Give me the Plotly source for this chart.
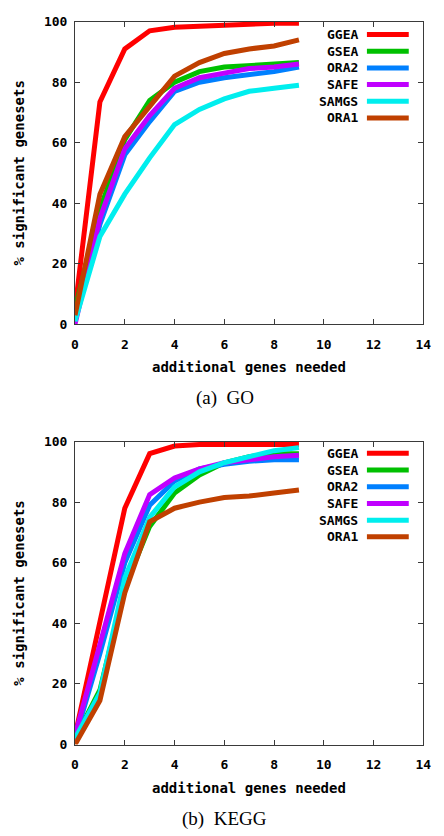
import plotly.graph_objects as go

x_vals = [0, 1, 2, 3, 4, 5, 6, 7, 8, 9]
series_names = ["GGEA", "GSEA", "ORA2", "SAFE", "SAMGS", "ORA1"]
series_colors = ["#ff0000", "#00c000", "#0080ff", "#c000ff", "#00eeee", "#c04000"]

go_ggea = [5, 73.5, 91, 97, 98.2, 98.6, 99, 99.3, 99.5, 99.5]
go_gsea = [5, 38, 61, 74, 80, 83.5, 85, 85.5, 86, 86.5]
go_ora2 = [1, 33, 56, 67, 77, 80, 81.5, 82.5, 83.5, 85]
go_safe = [0, 35, 58, 69, 78, 81.5, 83, 84.5, 85, 86]
go_samgs = [1, 29, 43, 55, 66, 71, 74.5, 77, 78, 79]
go_ora1 = [3, 43, 62, 72, 82, 86.5, 89.5, 91, 92, 94]

kegg_ggea = [3, 40, 78, 96, 98.5, 99, 99, 99, 99, 99]
kegg_gsea = [2, 18, 52, 72, 83, 89, 93, 95, 96, 96]
kegg_ora2 = [2, 30, 60, 79, 87, 91, 92.5, 93.5, 94, 94]
kegg_safe = [3, 33, 63, 82.5, 88, 91, 93, 94, 95, 95.5]
kegg_samgs = [2, 17, 55, 75, 85, 90, 93, 95, 97, 98]
kegg_ora1 = [0, 14.5, 50, 73.5, 78, 80, 81.5, 82, 83, 84]

x_ticks = [0, 2, 4, 6, 8, 10, 12, 14]
y_ticks = [0, 20, 40, 60, 80, 100]
x_title = "additional genes needed"
y_title = "% significant genesets"
captions = ["(a)  GO", "(b)  KEGG"]

go_data = [go_ggea, go_gsea, go_ora2, go_safe, go_samgs, go_ora1]
kegg_data = [kegg_ggea, kegg_gsea, kegg_ora2, kegg_safe, kegg_samgs, kegg_ora1]

W, H = 444, 836
PX_L, PX_R = 73, 431
panels = [(15, 323), (442.5, 751)]

mono = "DejaVu Sans Mono"
fig = go.Figure()

for p, data in enumerate([go_data, kegg_data]):
    sfx = "" if p == 0 else "2"
    for name, col, ys in zip(series_names, series_colors, data):
        fig.add_trace(go.Scatter(x=x_vals, y=ys, mode="lines", name=name,
                                 line=dict(color=col, width=5),
                                 xaxis="x" + sfx, yaxis="y" + sfx, showlegend=False))

def px2y(py):
    return 1 - py / H

ax_common = dict(showgrid=False, zeroline=False, showline=True, linecolor="#3a3a3a", linewidth=1,
                 mirror="ticks", ticks="inside", ticklen=5, tickwidth=1, tickcolor="#3a3a3a",
                 tickfont=dict(family=mono, size=13, color="black", weight="bold"))

layout = dict(width=W, height=H, margin=dict(l=0, r=0, t=0, b=0),
              plot_bgcolor="white", paper_bgcolor="white", showlegend=False)
annotations = []
shapes = []
for p, (top, bot) in enumerate(panels):
    sfx = "" if p == 0 else "2"
    layout["xaxis" + sfx] = dict(ax_common, domain=[PX_L / W, PX_R / W], range=[0, 14],
                                 tickvals=x_ticks, anchor="y" + sfx, ticklabelstandoff=8)
    layout["yaxis" + sfx] = dict(ax_common, domain=[px2y(bot), px2y(top)], range=[0, 100],
                                 tickvals=y_ticks, anchor="x" + sfx, ticklabelstandoff=4)
    annotations.append(dict(text=x_title, xref="paper", yref="paper", x=252 / W, y=px2y(bot + 44),
                            showarrow=False, xanchor="center", yanchor="middle",
                            font=dict(family=mono, size=14, color="black", weight="bold")))
    annotations.append(dict(text=y_title, xref="paper", yref="paper", x=15 / W, y=px2y((top + bot) / 2),
                            showarrow=False, xanchor="center", yanchor="middle", textangle=-90,
                            font=dict(family=mono, size=14, color="black", weight="bold")))
    annotations.append(dict(text=captions[p], xref="paper", yref="paper", x=227 / W,
                            y=px2y(bot + 75 + (1 if p == 1 else 0)),
                            showarrow=False, xanchor="center", yanchor="middle",
                            font=dict(family="Liberation Serif", size=19, color="black")))
    row0 = top + 13 if p == 0 else top + 12
    for i, (name, col) in enumerate(zip(series_names, series_colors)):
        ry = row0 + i * 17
        annotations.append(dict(text=name, xref="paper", yref="paper", x=366 / W, y=px2y(ry),
                                showarrow=False, xanchor="right", yanchor="middle",
                                font=dict(family=mono, size=13, color="black", weight="bold")))
        shapes.append(dict(type="line", xref="paper", yref="paper", x0=373 / W, x1=416 / W,
                           y0=px2y(ry), y1=px2y(ry), line=dict(color=col, width=5)))

layout["annotations"] = annotations
layout["shapes"] = shapes
fig.update_layout(**layout)
fig.write_html("out.html", config={"displayModeBar": False, "staticPlot": True},
               post_script="document.body.style.margin='0';document.body.style.overflow='hidden';")
